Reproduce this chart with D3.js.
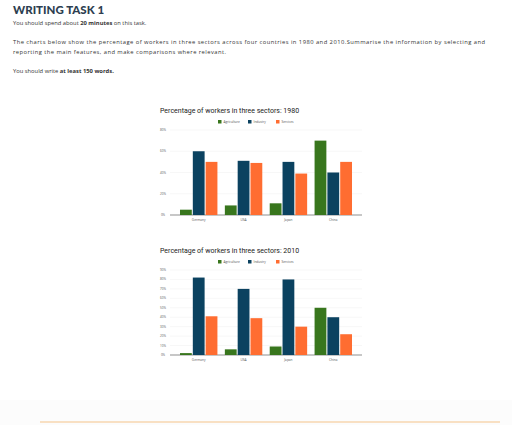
<!DOCTYPE html>
<html><head><meta charset="utf-8">
<script src="https://cdn.jsdelivr.net/npm/d3@7"></script>
<style>body{margin:0;background:#fff;font-family:"Open Sans",sans-serif}</style>
</head><body>
<svg id="s" width="512" height="425"></svg>
<script>
const countries=["Germany","USA","Japan","China"];
const sectors=["Agriculture","Industry","Services"];
const colors=["#38761d","#0b4260","#ff6d31"];
const data1980=[[5,60,50],[9,51,49],[11,50,39],[70,40,50]];
const data2010=[[2,82,41],[6,70,39],[9,80,30],[50,40,22]];
const ticks1980=[0,20,40,60,80];
const ticks2010=[0,10,20,30,40,50,60,70,80,90];

const svg=d3.select("#s");
svg.append("rect").attr("x",0).attr("y",400).attr("width",512).attr("height",25).attr("fill","#fcfcfc");
svg.append("line").attr("x1",40).attr("x2",500).attr("y1",422).attr("y2",422).attr("stroke","#f5c48a").attr("stroke-width",1);

svg.append("text").attr("x",13).attr("y",14).text("WRITING TASK 1").attr("font-family","Lato,sans-serif").attr("font-weight",900).attr("font-size",11.5).attr("fill","#2d3e50");
const t=svg.append("g").attr("font-size",5.8).attr("fill","#333");
let l1=t.append("text").attr("x",13).attr("y",25);
l1.append("tspan").text("You should spend about ");l1.append("tspan").attr("font-weight","bold").text("20 minutes");l1.append("tspan").text(" on this task.");
t.append("text").attr("x",13).attr("y",44).attr("textLength",472).text("The charts below show the percentage of workers in three sectors across four countries in 1980 and 2010.Summarise the information by selecting and");
t.append("text").attr("x",13).attr("y",54).attr("textLength",213).text("reporting the main features, and make comparisons where relevant.");
let l2=t.append("text").attr("x",13).attr("y",73);
l2.append("tspan").text("You should write ");l2.append("tspan").attr("font-weight","bold").text("at least 150 words.");

function chart(top,title,data,ticks,maxV){
  const g=svg.append("g");
  const y0=top+105,y1=top+20;
  g.append("text").attr("x",160).attr("y",top+3).text(title).attr("font-family","Roboto,sans-serif").attr("font-size",7).attr("fill","#222");
  const lx=[218,248,276];
  sectors.forEach((s,i)=>{
    g.append("rect").attr("x",lx[i]).attr("y",top+10).attr("width",3.5).attr("height",3.5).attr("fill",colors[i]);
    g.append("text").attr("x",lx[i]+5.5).attr("y",top+13.3).text(s).attr("font-size",3.2).attr("fill","#555");
  });
  const y=d3.scaleLinear().domain([0,maxV]).range([y0,y1]);
  const x=d3.scaleBand().domain(countries).range([170,362]).paddingInner(0.12).paddingOuter(0.2);
  const xs=d3.scaleBand().domain(sectors).range([0,x.bandwidth()]).padding(0.08);
  ticks.forEach(v=>{
    g.append("line").attr("x1",170).attr("x2",362).attr("y1",y(v)).attr("y2",y(v)).attr("stroke",v?"#eee":"#444").attr("stroke-width",v?0.5:0.6);
    g.append("text").attr("x",163).attr("y",y(v)+1).attr("text-anchor","middle").attr("font-size",3).attr("fill","#555").text(v+"%");
  });
  countries.forEach((c,ci)=>{
    sectors.forEach((s,si)=>{
      const v=data[ci][si];
      g.append("rect").attr("x",x(c)+xs(s)).attr("y",y(v)).attr("width",xs.bandwidth()).attr("height",y0-y(v)).attr("fill",colors[si]);
    });
    g.append("text").attr("x",x(c)+x.bandwidth()/2).attr("y",y0+6).attr("text-anchor","middle").attr("font-size",3.2).attr("fill","#555").text(c);
  });
}
chart(110,"Percentage of workers in three sectors: 1980",data1980,ticks1980,80);
chart(250,"Percentage of workers in three sectors: 2010",data2010,ticks2010,90);
</script></body></html>
